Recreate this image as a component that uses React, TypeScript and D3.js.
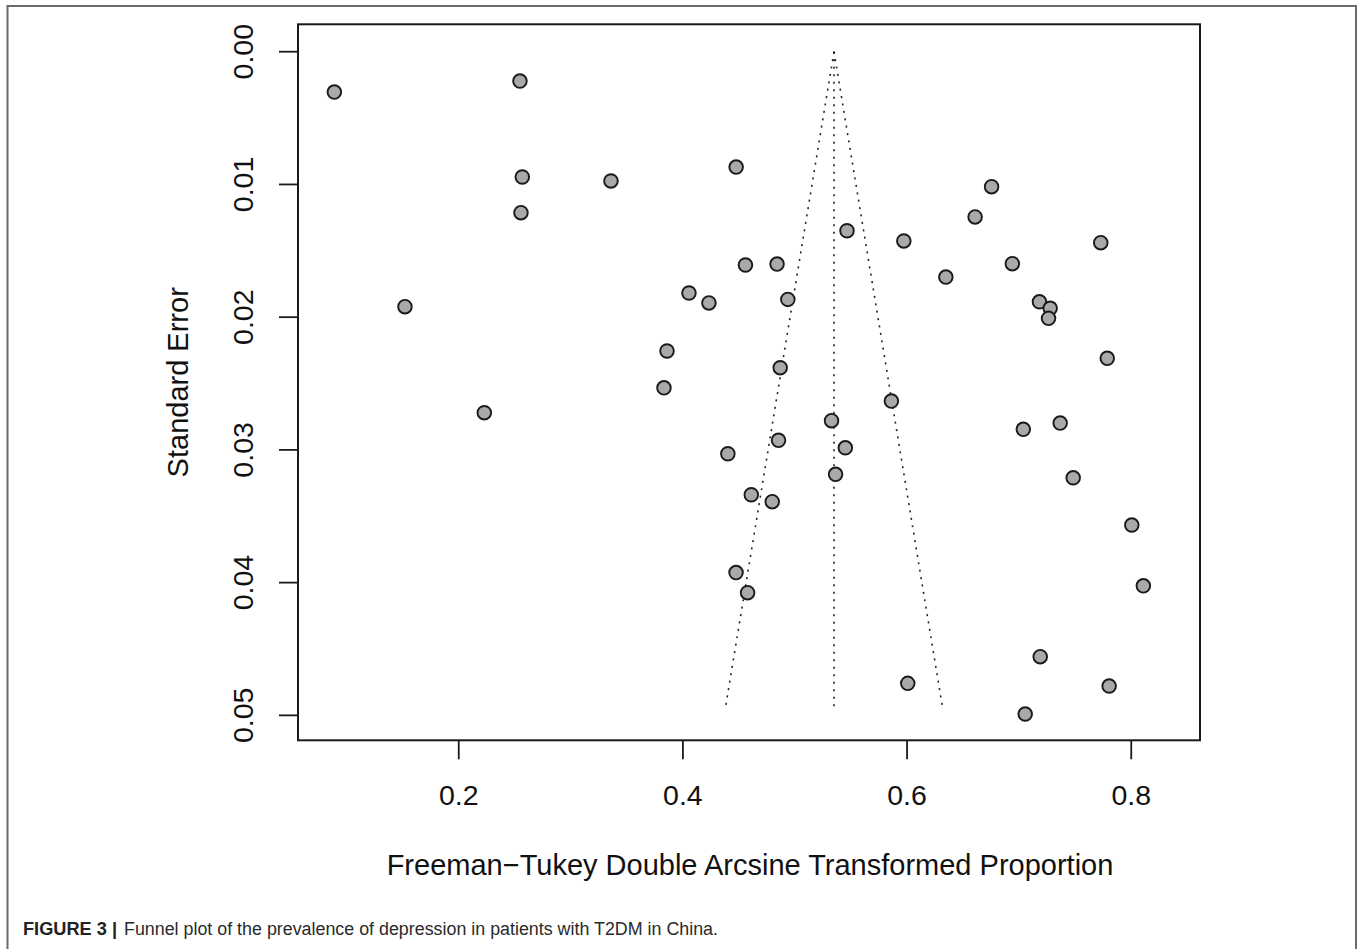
import React from "react";
import * as d3 from "d3";

// Freeman-Tukey transformed proportions (x) and standard errors (y)
const effectValues: number[] = [
  0.089, 0.2546, 0.2567, 0.3358, 0.2555, 0.4475, 0.152, 0.6754, 0.6607, 0.5464,
  0.5971, 0.7728, 0.4558, 0.484, 0.6346, 0.6939, 0.4054, 0.4232, 0.4936, 0.7181,
  0.7277, 0.7262, 0.3858, 0.7786, 0.4868, 0.3831, 0.2228, 0.586, 0.5326, 0.7366,
  0.7037, 0.4853, 0.5449, 0.4401, 0.5362, 0.7482, 0.461, 0.4797, 0.8005, 0.4474,
  0.8108, 0.4577, 0.7188, 0.6006, 0.7803, 0.7054,
];
const seValues: number[] = [
  0.00304, 0.00221, 0.00944, 0.00974, 0.01213, 0.00869, 0.01921, 0.01017, 0.01245, 0.01349,
  0.01426, 0.01439, 0.01607, 0.016, 0.01698, 0.01597, 0.01818, 0.01893, 0.01866, 0.01884,
  0.01933, 0.02009, 0.02255, 0.0231, 0.02381, 0.02532, 0.0272, 0.02632, 0.0278, 0.02798,
  0.02845, 0.02928, 0.02984, 0.03029, 0.03184, 0.0321, 0.03338, 0.0339, 0.03566, 0.03924,
  0.04024, 0.04076, 0.04558, 0.04759, 0.04779, 0.0499,
];
const pooledEstimate = 0.5348;
const funnelMaxSE = 0.0496;
const xTicks: number[] = [0.2, 0.4, 0.6, 0.8];
const yTicks: number[] = [0, 0.01, 0.02, 0.03, 0.04, 0.05];
const xTitle = "Freeman\u2212Tukey Double Arcsine Transformed Proportion";
const yTitle = "Standard Error";
const captionBold = "FIGURE 3 |";
const captionText = "Funnel plot of the prevalence of depression in patients with T2DM in China.";

const W = 1360;
const H = 949;
const left = 298, right = 1200, top = 24.3, bottom = 740.3;
const font = "'Liberation Sans', Arial, Helvetica, sans-serif";

export default function App() {
  const x = d3.scaleLinear().domain([0.05657, 0.86135]).range([left, right]);
  const y = d3.scaleLinear().domain([-0.002065, 0.05188]).range([top, bottom]);
  const z = 1.96;
  const line = d3.line<[number, number]>()
    .x((d) => x(d[0]))
    .y((d) => y(d[1]));
  const funnelLeft = line([
    [pooledEstimate, 0],
    [pooledEstimate - z * funnelMaxSE, funnelMaxSE],
  ]);
  const funnelRight = line([
    [pooledEstimate, 0],
    [pooledEstimate + z * funnelMaxSE, funnelMaxSE],
  ]);
  const centerLine = line([
    [pooledEstimate, 0],
    [pooledEstimate, funnelMaxSE],
  ]);
  const pts = effectValues.map((v, i) => ({ v, se: seValues[i] }));
  const dash = "2 5.5";
  return (
    <svg
      width={W}
      height={H}
      style={{ position: "absolute", left: 0, top: 0, background: "#fff" }}
      fontFamily={font}
    >
      <rect x={0} y={0} width={W} height={H} fill="#fff" />
      {/* outer frame (open at bottom) */}
      <path d={`M7.5,${H} L7.5,6 L1356,6 L1356,${H}`} fill="none" stroke="#6b6b6b" strokeWidth={2} />
      {/* funnel */}
      <path d={funnelLeft || ""} stroke="#222" strokeWidth={1.6} strokeDasharray={dash} fill="none" />
      <path d={funnelRight || ""} stroke="#222" strokeWidth={1.6} strokeDasharray={dash} fill="none" />
      <path d={centerLine || ""} stroke="#222" strokeWidth={1.6} strokeDasharray={dash} fill="none" />
      {/* points */}
      {pts.map((p, i) => (
        <circle key={i} cx={x(p.v)} cy={y(p.se)} r={6.8} fill="#a9a9a9" stroke="#1a1a1a" strokeWidth={1.9} />
      ))}
      {/* plot box */}
      <rect x={left} y={top} width={right - left} height={bottom - top} fill="none" stroke="#1a1a1a" strokeWidth={2} />
      {/* x axis ticks */}
      {xTicks.map((t) => (
        <g key={t}>
          <line x1={x(t)} x2={x(t)} y1={bottom} y2={bottom + 19} stroke="#1a1a1a" strokeWidth={1.8} />
          <text x={x(t)} y={805} textAnchor="middle" fontSize={28.5} fill="#111">
            {d3.format(".1f")(t)}
          </text>
        </g>
      ))}
      {/* y axis ticks */}
      {yTicks.map((t) => (
        <g key={t}>
          <line x1={left - 19} x2={left} y1={y(t)} y2={y(t)} stroke="#1a1a1a" strokeWidth={1.8} />
          <text
            transform={`translate(253,${y(t)}) rotate(-90)`}
            textAnchor="middle"
            fontSize={28.5}
            fill="#111"
          >
            {d3.format(".2f")(t)}
          </text>
        </g>
      ))}
      {/* axis titles */}
      <text x={(385 + 1115) / 2} y={875} textAnchor="middle" fontSize={29} fill="#111">
        {xTitle}
      </text>
      <text
        transform={`translate(188,${(top + bottom) / 2}) rotate(-90)`}
        textAnchor="middle"
        fontSize={29}
        fill="#111"
      >
        {yTitle}
      </text>
      {/* caption */}
      <text x={23} y={935} fontSize={18} fontWeight="bold" fill="#222" textLength={94} lengthAdjust="spacingAndGlyphs">
        {captionBold}
      </text>
      <text x={124} y={935} fontSize={18} fill="#2a2a2a" textLength={594} lengthAdjust="spacingAndGlyphs">
        {captionText}
      </text>
    </svg>
  );
}
